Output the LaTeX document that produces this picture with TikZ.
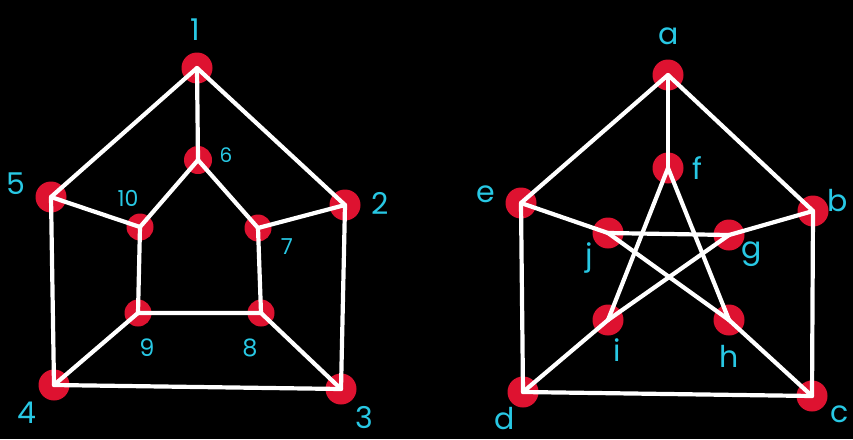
\documentclass[tikz,border=0pt]{standalone}
\usepackage{fontspec}
\setmainfont{Poppins}
\definecolor{vred}{RGB}{222,18,48}
\definecolor{lcyan}{RGB}{40,200,228}
\begin{document}
\begin{tikzpicture}[x=1pt,y=-1pt,
  vtx/.style={circle,fill=vred,inner sep=0pt,minimum size=31pt},
  edg/.style={draw=white,line width=4.2pt,line cap=round,line join=round},
  lbl/.style={text=lcyan,inner sep=0pt,font=\fontsize{30}{30}\selectfont}]
\fill[black] (0,0) rectangle (853,439);
\useasboundingbox (0,0) rectangle (853,439);
% left graph vertices
\node[vtx] (v1) at (197,68) {};
\node[vtx] (v2) at (345,205) {};
\node[vtx] (v3) at (341,389) {};
\node[vtx] (v4) at (54,385) {};
\node[vtx] (v5) at (51,197) {};
\node[vtx,minimum size=28pt] (v6) at (198,160) {};
\node[vtx,minimum size=27pt] (v7) at (258,228) {};
\node[vtx,minimum size=27pt] (v8) at (261,313) {};
\node[vtx,minimum size=27pt] (v9) at (138,313) {};
\node[vtx,minimum size=27pt] (v10) at (140,227) {};
% right graph vertices
\node[vtx] (va) at (668,75) {};
\node[vtx] (vb) at (813,211) {};
\node[vtx] (vc) at (812,396) {};
\node[vtx] (vd) at (523,392) {};
\node[vtx] (ve) at (521,203) {};
\node[vtx] (vf) at (668,168) {};
\node[vtx] (vg) at (729,235) {};
\node[vtx] (vh) at (729,320) {};
\node[vtx] (vi) at (608,320) {};
\node[vtx] (vj) at (608,233) {};
% left edges
\draw[edg] (v1.center) -- (v2.center) -- (v3.center) -- (v4.center) -- (v5.center) -- cycle;
\draw[edg] (v6.center) -- (v7.center) -- (v8.center) -- (v9.center) -- (v10.center) -- cycle;
\draw[edg] (v1.center) -- (v6.center);
\draw[edg] (v2.center) -- (v7.center);
\draw[edg] (v3.center) -- (v8.center);
\draw[edg] (v4.center) -- (v9.center);
\draw[edg] (v5.center) -- (v10.center);
% right edges
\draw[edg] (va.center) -- (vb.center) -- (vc.center) -- (vd.center) -- (ve.center) -- cycle;
\draw[edg] (va.center) -- (vf.center);
\draw[edg] (vb.center) -- (vg.center);
\draw[edg] (vc.center) -- (vh.center);
\draw[edg] (vd.center) -- (vi.center);
\draw[edg] (ve.center) -- (vj.center);
\draw[edg] (vf.center) -- (vh.center);
\draw[edg] (vf.center) -- (vi.center);
\draw[edg] (vj.center) -- (vg.center);
\draw[edg] (vj.center) -- (vh.center);
\draw[edg] (vg.center) -- (vi.center);
% left labels
\node[lbl] (l1) at (195,30) {1};
\node[lbl] (l2) at (380,203) {2};
\node[lbl] (l3) at (364,418) {3};
\node[lbl] (l4) at (27,413) {4};
\node[lbl] (l5) at (16,184) {5};
\node[lbl,font=\fontsize{20}{20}\selectfont] (l6) at (226,155) {6};
\node[lbl,font=\fontsize{22}{22}\selectfont] (l7) at (287,247) {7};
\node[lbl,font=\fontsize{24}{24}\selectfont] (l8) at (250,348) {8};
\node[lbl,font=\fontsize{24}{24}\selectfont] (l9) at (147,348) {9};
\node[lbl,font=\fontsize{22}{22}\selectfont] (l10) at (128,198) {10};
% right labels
\node[lbl] (la) at (669,36) {a};
\node[lbl] (lb) at (838,201) {b};
\node[lbl] (lc) at (840,414) {c};
\node[lbl] (ld) at (505,419) {d};
\node[lbl] (le) at (486,194) {e};
\node[lbl] (lf) at (697,168) {f};
\node[lbl] (lg) at (752,254) {g};
\node[lbl] (lh) at (729,356) {h};
\node[lbl] (li) at (617,350) {i};
\node[lbl] (lj) at (589,258) {j};
\end{tikzpicture}
\end{document}
